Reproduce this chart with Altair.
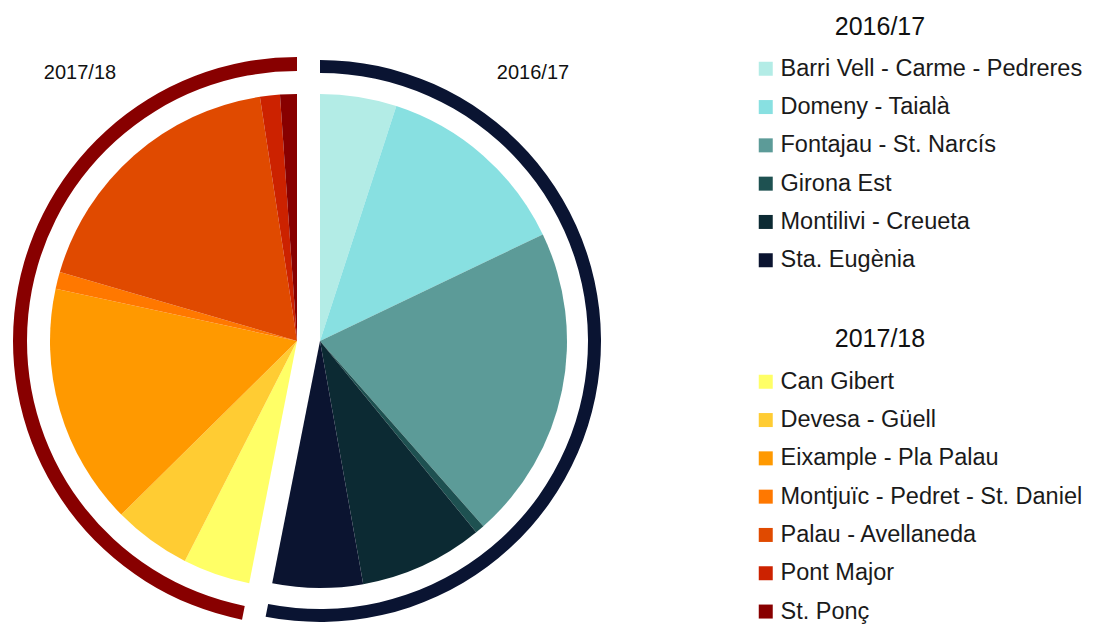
import altair as alt
import pandas as pd

year_labels = ["2016/17", "2017/18"]

barris_1617 = [
    "Barri Vell - Carme - Pedreres",
    "Domeny - Taialà",
    "Fontajau - St. Narcís",
    "Girona Est",
    "Montilivi - Creueta",
    "Sta. Eugènia",
]
shares_1617 = [5.0, 12.9, 20.6, 0.6, 8.1, 5.9]
colors_1617 = ["#b3ece6", "#88e0e1", "#5c9b98", "#1e5151", "#0c2a33", "#0b1430"]

barris_1718 = [
    "Can Gibert",
    "Devesa - Güell",
    "Eixample - Pla Palau",
    "Montjuïc - Pedret - St. Daniel",
    "Palau - Avellaneda",
    "Pont Major",
    "St. Ponç",
]
shares_1718 = [4.4, 5.1, 15.8, 1.1, 18.1, 1.3, 1.1]
colors_1718 = ["#ffff66", "#ffcc33", "#ff9900", "#ff7800", "#e04a00", "#cc2200", "#880000"]

ring_colors = ["#0a1432", "#880000"]

df = pd.DataFrame({
    "year": [year_labels[0]] * len(barris_1617) + [year_labels[1]] * len(barris_1718),
    "barri": barris_1617 + barris_1718,
    "share": shares_1617 + shares_1718,
    "order": list(range(len(barris_1617) + len(barris_1718))),
})

FONT = "Liberation Sans"
theta_scale = alt.Scale(domain=[0, 100], range=[0, 6.283185307179586])

base = alt.Chart(df).transform_window(
    end="sum(share)", sort=[alt.SortField("order")], frame=[None, 0]
).transform_calculate(start="datum.end - datum.share")

centers = {year_labels[0]: (320, 341), year_labels[1]: (297, 341)}
ring_radii = {year_labels[0]: (281, 268), year_labels[1]: (284, 270)}

def legend(y):
    return alt.Legend(
        title=None, orient="none", legendX=754, legendY=y,
        symbolType="square", symbolSize=196, symbolStrokeWidth=0,
        labelFontSize=23.5, labelFont=FONT, labelColor="#1a1a1a",
        rowPadding=13.3, labelOffset=3, labelLimit=400,
    )

layers = []
for i, yr in enumerate(year_labels):
    cx, cy = centers[yr]
    r_out, r_in = ring_radii[yr]
    ring = base.transform_filter(alt.datum.year == yr).transform_aggregate(
        rs="min(start)", re="max(end)"
    ).mark_arc(radius=r_out, radius2=r_in, color=ring_colors[i], strokeWidth=0).encode(
        theta=alt.Theta("rs:Q", scale=theta_scale),
        theta2="re:Q",
        x=alt.value(cx), y=alt.value(cy),
    )
    layers.append(ring)

pie_a = base.transform_filter(alt.datum.year == year_labels[0]).mark_arc(
    radius=247, strokeWidth=0
).encode(
    theta=alt.Theta("start:Q", scale=theta_scale),
    theta2="end:Q",
    x=alt.value(centers[year_labels[0]][0]), y=alt.value(centers[year_labels[0]][1]),
    color=alt.Color("barri:N", scale=alt.Scale(domain=barris_1617, range=colors_1617),
                    legend=legend(57)),
)
pie_b = base.transform_filter(alt.datum.year == year_labels[1]).mark_arc(
    radius=247, strokeWidth=0
).encode(
    theta=alt.Theta("start:Q", scale=theta_scale),
    theta2="end:Q",
    x=alt.value(centers[year_labels[1]][0]), y=alt.value(centers[year_labels[1]][1]),
    fill=alt.Fill("barri:N", scale=alt.Scale(domain=barris_1718, range=colors_1718),
                  legend=legend(370)),
)
layers += [pie_a, pie_b]

def label(txt, x, y, size):
    return alt.Chart(pd.DataFrame({"t": [txt]})).mark_text(
        font=FONT, fontSize=size, color="#111111", align="center", baseline="middle"
    ).encode(text="t:N", x=alt.value(x), y=alt.value(y))

layers += [
    label(year_labels[0], 533, 73, 20),
    label(year_labels[1], 80, 73, 20),
    label(year_labels[0], 880, 27, 25),
    label(year_labels[1], 880, 339, 25),
]

chart = alt.layer(*layers).resolve_scale(color="independent", fill="independent").properties(
    width=1093, height=625, autosize="none", padding=0, background="white"
).configure_view(stroke=None)

chart.save("out.html", embed_options={"renderer": "svg", "actions": False})
